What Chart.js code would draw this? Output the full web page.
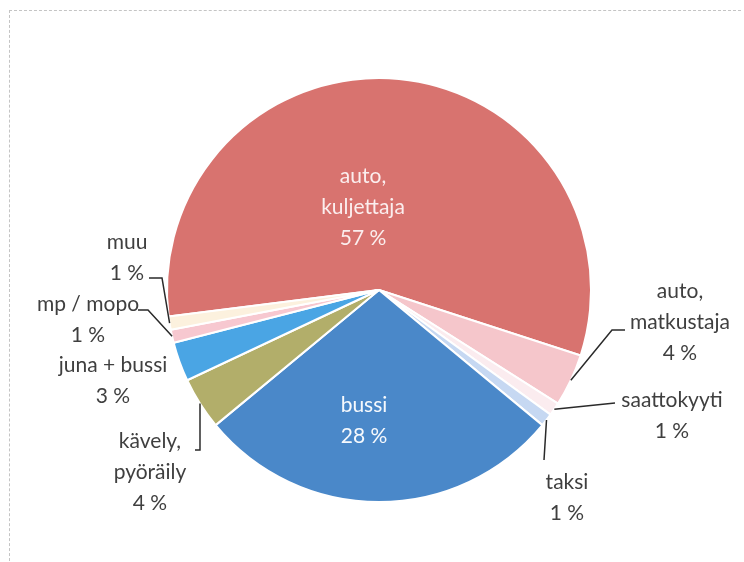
<!DOCTYPE html>
<html>
<head>
<meta charset="utf-8">
<script src="https://cdn.jsdelivr.net/npm/chart.js@4/dist/chart.umd.min.js"></script>
<style>
body{margin:0;background:#fff;}
#wrap{position:relative;width:744px;height:562px;}
#frame{position:absolute;left:9px;top:10px;width:731px;height:560px;border-top:1px dashed #c4c4c4;border-left:1px dashed #c4c4c4;}
canvas{position:absolute;left:0;top:0;}
</style>
</head>
<body>
<div id="wrap">
<div id="frame"></div>
<canvas id="chart" width="744" height="562"></canvas>
</div>
<script>
// data
const categories=["auto, kuljettaja","auto, matkustaja","saattokyyti","taksi","bussi","kävely, pyöräily","juna + bussi","mp / mopo","muu"];
const shares=[57,4,1,1,28,4,3,1,1];
const colors=["#d8736f","#f5c6cb","#fbecef","#c6d8f2","#4a88c9","#b2ae6a","#4aa5e4","#f7c8d0","#fcf1de"];

// label placement relative to pie centre (middle of text block), leader points
const labelPos=[
{dx:-16,dy:-83,inside:true,color:"#fbeeee"},
{dx:301,dy:32,lead:[[246,40],[233,40]]},
{dx:293,dy:126,lead:[[236,113]]},
{dx:188,dy:208,lead:[[165,170]]},
{dx:-15,dy:131,inside:true,color:"#f6f9fd"},
{dx:-229,dy:182,lead:[[-184,160],[-179,160]]},
{dx:-266,dy:91},
{dx:-291,dy:30,lead:[[-241,20],[-231,20]]},
{dx:-252,dy:-32,lead:[[-230,-12],[-217,-12]]}
];

const lineH=31;

const labelPlugin={
id:"labels",
afterDatasetsDraw(chart){
const ctx=chart.ctx;
const arcs=chart.getDatasetMeta(0).data;
ctx.save();
ctx.font="21px Lato";
ctx.textAlign="center";
ctx.textBaseline="middle";
arcs.forEach((arc,i)=>{
const p=arc.getProps(["x","y","startAngle","endAngle","outerRadius"],true);
const lp=labelPos[i];
const cx=p.x+lp.dx, cy=p.y+lp.dy;
let lines=categories[i].split(", ");
if(lines.length>1) lines[0]=lines[0]+",";
lines.push(shares[i]+" %");
const top=cy-(lines.length-1)*lineH/2;
ctx.fillStyle=lp.color||"#3f3f3f";
lines.forEach((t,k)=>ctx.fillText(t,cx,top+k*lineH));
if(lp.lead){
const mid=(p.startAngle+p.endAngle)/2;
const ex=p.x+Math.cos(mid)*p.outerRadius;
const ey=p.y+Math.sin(mid)*p.outerRadius;
ctx.strokeStyle="#2a2a2a";
ctx.lineWidth=1.5;
ctx.beginPath();
lp.lead.forEach((pt,k)=>{
if(k===0) ctx.moveTo(p.x+pt[0],p.y+pt[1]);
else ctx.lineTo(p.x+pt[0],p.y+pt[1]);
});
ctx.lineTo(ex,ey);
ctx.stroke();
}
});
ctx.restore();
}
};

new Chart(document.getElementById("chart"),{
type:"pie",
data:{
labels:categories,
datasets:[{
data:shares,
backgroundColor:colors,
borderColor:"#ffffff",
borderWidth:2,
hoverOffset:0
}]
},
options:{
responsive:false,
animation:false,
devicePixelRatio:1,
rotation:262.8,
radius:212,
layout:{padding:{left:14,right:0,top:78,bottom:60}},
plugins:{legend:{display:false},tooltip:{enabled:false}}
},
plugins:[labelPlugin]
});
</script>
</body>
</html>
